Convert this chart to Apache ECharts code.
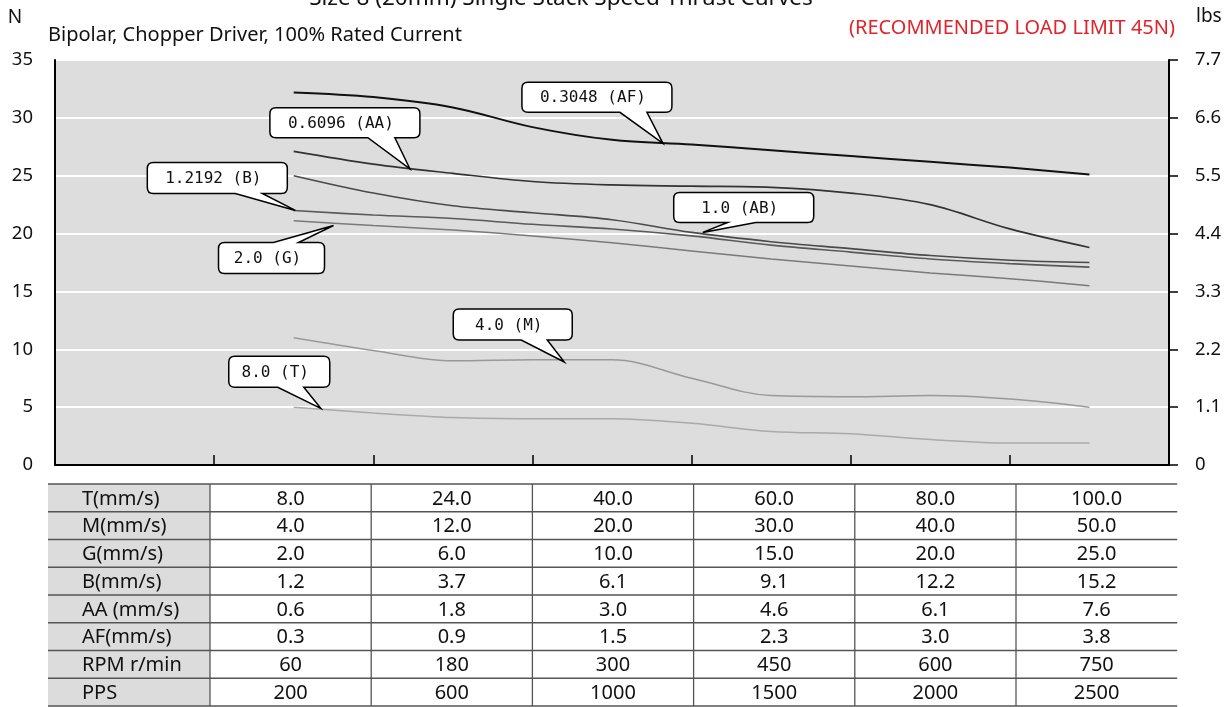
<!DOCTYPE html>
<html>
<head>
<meta charset="utf-8">
<script src="https://cdn.jsdelivr.net/npm/echarts@6/dist/echarts.min.js"></script>
<style>
html,body{margin:0;padding:0;background:#fff;}
#chart{width:1231px;height:707px;}
</style>
</head>
<body>
<div id="chart"></div>
<script>
// ---------- data ----------
// x positions in table-column units (column i centre = i + 1.5)
const speedSamples = [1.5, 2, 2.5, 3, 3.5, 4, 4.5, 5, 5.5, 6, 6.5];
const seriesNames = ['0.3048 (AF)', '0.6096 (AA)', '1.0 (AB)', '1.2192 (B)', '2.0 (G)', '4.0 (M)', '8.0 (T)'];
const thrustAF = [32.2, 31.8, 30.9, 29.2, 28.1, 27.7, 27.2, 26.7, 26.2, 25.7, 25.1];
const thrustAA = [27.1, 26.0, 25.2, 24.5, 24.2, 24.1, 24.0, 23.5, 22.5, 20.4, 18.8];
const thrustAB = [25.0, 23.5, 22.4, 21.8, 21.2, 20.1, 19.3, 18.7, 18.1, 17.7, 17.5];
const thrustB  = [22.0, 21.6, 21.3, 20.8, 20.4, 19.8, 19.0, 18.4, 17.8, 17.4, 17.1];
const thrustG  = [21.1, 20.7, 20.3, 19.8, 19.2, 18.5, 17.8, 17.2, 16.6, 16.1, 15.5];
const thrustM  = [11.0, 9.9, 9.0, 9.1, 9.1, 7.5, 6.0, 5.9, 6.0, 5.7, 5.0];
const thrustT  = [5.0, 4.5, 4.1, 4.0, 4.0, 3.6, 2.9, 2.7, 2.2, 1.9, 1.9];

const lbsLabels = ['0', '1.1', '2.2', '3.3', '4.4', '5.5', '6.6', '7.7'];

// callout anchor points on the curves [x, N]
const calloutTexts = ['0.3048 (AF)', '0.6096 (AA)', '1.2192 (B)', '2.0 (G)', '1.0 (AB)', '4.0 (M)', '8.0 (T)'];
const calloutAnchors = [[3.82, 27.8], [2.23, 25.6], [1.51, 22.0], [1.75, 20.7], [4.07, 20.1], [3.2, 8.9], [1.67, 4.9]];

// table
const tableRowLabels = ['T(mm/s)', 'M(mm/s)', 'G(mm/s)', 'B(mm/s)', 'AA (mm/s)', 'AF(mm/s)', 'RPM r/min', 'PPS'];
const rowT   = ['8.0', '24.0', '40.0', '60.0', '80.0', '100.0'];
const rowM   = ['4.0', '12.0', '20.0', '30.0', '40.0', '50.0'];
const rowG   = ['2.0', '6.0', '10.0', '15.0', '20.0', '25.0'];
const rowB   = ['1.2', '3.7', '6.1', '9.1', '12.2', '15.2'];
const rowAA  = ['0.6', '1.8', '3.0', '4.6', '6.1', '7.6'];
const rowAF  = ['0.3', '0.9', '1.5', '2.3', '3.0', '3.8'];
const rowRPM = ['60', '180', '300', '450', '600', '750'];
const rowPPS = ['200', '600', '1000', '1500', '2000', '2500'];
const tableRows = [rowT, rowM, rowG, rowB, rowAA, rowAF, rowRPM, rowPPS];

// ---------- styles / layout ----------
const FONT = '"Noto Sans", "Open Sans", sans-serif';
const lineStyles = [
  {color: '#111111', width: 2.0},
  {color: '#333333', width: 1.7},
  {color: '#4a4a4a', width: 1.6},
  {color: '#5a5a5a', width: 1.6},
  {color: '#7a7a7a', width: 1.5},
  {color: '#999999', width: 1.5},
  {color: '#aaaaaa', width: 1.5}
];
const seriesValues = [thrustAF, thrustAA, thrustAB, thrustB, thrustG, thrustM, thrustT];

// bubble box relative to tip (px), tail base on box edge (relative to tip x)
const calloutLayout = [
  {dx: -141, dy: -61, w: 150, h: 30, b1: -43, b2: -16, side: 'bottom'},
  {dx: -140, dy: -61, w: 150, h: 30, b1: -42, b2: -15, side: 'bottom'},
  {dx: -148, dy: -48, w: 140, h: 31, b1: -60, b2: -33, side: 'bottom'},
  {dx: -115, dy: 17,  w: 106, h: 31, b1: -60, b2: -35, side: 'top'},
  {dx: -29,  dy: -40, w: 140, h: 30, b1: 25,  b2: 53,  side: 'bottom'},
  {dx: -111, dy: -53, w: 119, h: 31, b1: -43, b2: -17, side: 'bottom'},
  {dx: -92,  dy: -52, w: 101, h: 31, b1: -43, b2: -17, side: 'bottom'}
];

function bubblePath(x0, y0, x1, y1, r, b1, b2, tx, ty, side) {
  let d = 'M' + (x0 + r) + ' ' + y0;
  if (side === 'top') d += ' L' + b1 + ' ' + y0 + ' L' + tx + ' ' + ty + ' L' + b2 + ' ' + y0;
  d += ' L' + (x1 - r) + ' ' + y0 + ' Q' + x1 + ' ' + y0 + ' ' + x1 + ' ' + (y0 + r);
  d += ' L' + x1 + ' ' + (y1 - r) + ' Q' + x1 + ' ' + y1 + ' ' + (x1 - r) + ' ' + y1;
  if (side === 'bottom') d += ' L' + b2 + ' ' + y1 + ' L' + tx + ' ' + ty + ' L' + b1 + ' ' + y1;
  d += ' L' + (x0 + r) + ' ' + y1 + ' Q' + x0 + ' ' + y1 + ' ' + x0 + ' ' + (y1 - r);
  d += ' L' + x0 + ' ' + (y0 + r) + ' Q' + x0 + ' ' + y0 + ' ' + (x0 + r) + ' ' + y0 + ' Z';
  return d;
}

const chart = echarts.init(document.getElementById('chart'), null, {renderer: 'canvas'});

const series = seriesValues.map((vals, k) => ({
  name: seriesNames[k],
  type: 'line',
  smooth: 0.35,
  symbol: 'none',
  silent: true,
  z: 3,
  lineStyle: {color: lineStyles[k].color, width: lineStyles[k].width},
  data: speedSamples.map((x, i) => [x, vals[i]])
}));

series.push({
  type: 'custom',
  z: 10,
  silent: true,
  data: calloutAnchors,
  encode: {x: 0, y: 1},
  renderItem: function (params, api) {
    const i = params.dataIndex;
    const tip = api.coord([api.value(0), api.value(1)]);
    const L = calloutLayout[i];
    const x0 = tip[0] + L.dx, y0 = tip[1] + L.dy, x1 = x0 + L.w, y1 = y0 + L.h;
    const d = bubblePath(x0, y0, x1, y1, 6, tip[0] + L.b1, tip[0] + L.b2, tip[0], tip[1], L.side);
    return {
      type: 'group',
      children: [
        {type: 'path', shape: {pathData: d}, style: {fill: '#ffffff', stroke: '#000000', lineWidth: 1.5}},
        {type: 'text', style: {text: calloutTexts[i], x: (x0 + x1) / 2 - 4, y: (y0 + y1) / 2 + 1,
          align: 'center', verticalAlign: 'middle', fontSize: 16,
          fontFamily: '"DejaVu Sans Mono", monospace', fill: '#111111'}}
      ]
    };
  }
});

// ---------- table graphics ----------
const graphics = [];
const tLeft = 48, tTop = 484, rowH = 27.75, firstW = 162, colW = 161.2;
const nRows = tableRows.length, nCols = rowT.length;
const tRight = tLeft + firstW + colW * nCols;
graphics.push({type: 'rect', shape: {x: tLeft, y: tTop, width: firstW, height: rowH * nRows},
  style: {fill: '#dcdcdc'}, z: 1});
for (let r = 0; r <= nRows; r++) {
  graphics.push({type: 'line', shape: {x1: tLeft, y1: tTop + r * rowH, x2: tRight, y2: tTop + r * rowH},
    style: {stroke: '#555555', lineWidth: 1.3}, z: 2});
}
for (let c = 0; c < nCols; c++) {
  const x = tLeft + firstW + c * colW;
  graphics.push({type: 'line', shape: {x1: x, y1: tTop, x2: x, y2: tTop + rowH * nRows},
    style: {stroke: '#555555', lineWidth: 1.3}, z: 2});
}
for (let r = 0; r < nRows; r++) {
  const cy = tTop + r * rowH + rowH / 2 + 1;
  graphics.push({type: 'text', style: {text: tableRowLabels[r], x: tLeft + 34, y: cy,
    verticalAlign: 'middle', align: 'left', fontSize: 20, fontFamily: FONT, fill: '#111'}, z: 3});
  for (let c = 0; c < nCols; c++) {
    graphics.push({type: 'text', style: {text: tableRows[r][c], x: tLeft + firstW + c * colW + colW / 2, y: cy,
      verticalAlign: 'middle', align: 'center', fontSize: 20, fontFamily: FONT, fill: '#111'}, z: 3});
  }
}
// header texts
graphics.push({type: 'text', style: {text: 'Size 8 (20mm) Single Stack Speed-Thrust Curves', x: 561, y: 10,
  align: 'center', verticalAlign: 'bottom', fontSize: 22.5, fontFamily: FONT, fill: '#111'}});
graphics.push({type: 'text', style: {text: 'N', x: 15, y: 18, align: 'center', verticalAlign: 'middle',
  fontSize: 19, fontFamily: FONT, fill: '#111'}});
graphics.push({type: 'text', style: {text: 'Bipolar, Chopper Driver, 100% Rated Current', x: 48, y: 35,
  align: 'left', verticalAlign: 'middle', fontSize: 20, fontFamily: FONT, fill: '#111'}});
graphics.push({type: 'text', style: {text: '(RECOMMENDED LOAD LIMIT 45N)', x: 1175, y: 28,
  align: 'right', verticalAlign: 'middle', fontSize: 20, fontFamily: FONT, fill: '#e3232b'}});
graphics.push({type: 'text', style: {text: 'lbs', x: 1196, y: 17, align: 'left', verticalAlign: 'middle',
  fontSize: 19, fontFamily: FONT, fill: '#111'}});

const option = {
  animation: false,
  backgroundColor: '#ffffff',
  grid: {left: 55, right: 62, top: 60, bottom: 242, show: true, backgroundColor: '#dcdddc', borderWidth: 0},
  xAxis: {
    type: 'value', min: 0, max: 7, interval: 1,
    axisLine: {show: true, onZero: false, lineStyle: {color: '#000', width: 2}},
    axisTick: {show: true, inside: true, length: 10, lineStyle: {color: '#000', width: 1.5}},
    axisLabel: {show: false},
    splitLine: {show: false}
  },
  yAxis: [
    {
      type: 'value', min: 0, max: 35, interval: 5, position: 'left',
      axisLine: {show: true, lineStyle: {color: '#000', width: 2}},
      axisTick: {show: false},
      axisLabel: {color: '#111', fontSize: 18.5, fontFamily: FONT, margin: 22},
      splitLine: {show: true, lineStyle: {color: '#ffffff', width: 2}}
    },
    {
      type: 'value', min: 0, max: 35, interval: 5, position: 'right',
      axisLine: {show: true, lineStyle: {color: '#000', width: 2}},
      axisTick: {show: true, length: 9, lineStyle: {color: '#000', width: 1.5}},
      axisLabel: {color: '#111', fontSize: 18.5, fontFamily: FONT, margin: 26, align: 'left',
        formatter: v => lbsLabels[Math.round(v / 5)]},
      splitLine: {show: false}
    }
  ],
  series: series,
  graphic: graphics
};
chart.setOption(option);
</script>
</body>
</html>
